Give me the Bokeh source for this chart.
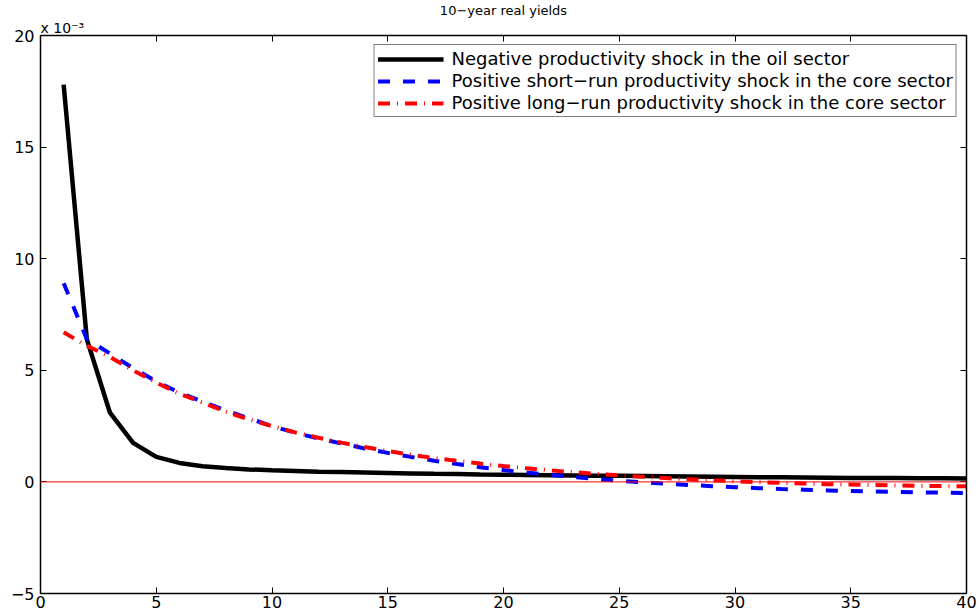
from bokeh.plotting import figure
from bokeh.models import LinearAxis, Range1d, Span, Title, Legend, LegendItem, FixedTicker
from bokeh.embed import file_html
from bokeh.resources import INLINE

periods = list(range(1, 41))
oil_neg = [17.8, 6.4, 3.1, 1.75, 1.12, 0.85, 0.70, 0.62, 0.56, 0.52,
           0.49, 0.46, 0.44, 0.42, 0.40, 0.38, 0.36, 0.35, 0.33, 0.32,
           0.31, 0.30, 0.29, 0.28, 0.27, 0.26, 0.25, 0.24, 0.23, 0.22,
           0.21, 0.21, 0.20, 0.19, 0.18, 0.18, 0.17, 0.16, 0.16, 0.15]
core_short = [8.9, 6.4, 5.75, 5.1, 4.5, 4.0, 3.6, 3.2, 2.85, 2.5,
              2.2, 1.95, 1.72, 1.5, 1.3, 1.12, 0.95, 0.8, 0.66, 0.53,
              0.42, 0.32, 0.22, 0.13, 0.05, -0.02, -0.08, -0.14, -0.19, -0.24,
              -0.28, -0.32, -0.35, -0.38, -0.41, -0.43, -0.45, -0.47, -0.48, -0.5]
core_long = [6.7, 6.1, 5.6, 5.0, 4.45, 3.95, 3.55, 3.15, 2.8, 2.5,
             2.22, 1.98, 1.76, 1.56, 1.38, 1.22, 1.07, 0.94, 0.82, 0.71,
             0.61, 0.52, 0.44, 0.36, 0.29, 0.23, 0.17, 0.12, 0.07, 0.03,
             -0.01, -0.04, -0.07, -0.1, -0.12, -0.14, -0.16, -0.18, -0.19, -0.2]
x_ticks = [0, 5, 10, 15, 20, 25, 30, 35, 40]
y_ticks = [-5, 0, 5, 10, 15, 20]
y_tick_labels = {-5: "\u22125", 0: "0", 5: "5", 10: "10", 15: "15", 20: "20"}
labels = ["Negative productivity shock in the oil sector",
          "Positive short\u2212run productivity shock in the core sector",
          "Positive long\u2212run productivity shock in the core sector"]
title_text = "10\u2212year real yields"
multiplier_text = "x 10\u207b\u00b3"

FONT = "DejaVu Sans"
W, H = 977, 615
BL, BR, BT, BB = 40, 11, 35, 22   # borders around the plotting frame

p = figure(width=W, height=H, output_backend="svg", toolbar_location=None,
           x_range=Range1d(0, 40), y_range=Range1d(-5, 20),
           x_axis_location=None, y_axis_location=None,
           min_border_left=BL, min_border_right=BR, min_border_top=BT, min_border_bottom=BB)
p.grid.visible = False
p.outline_line_color = "black"
p.outline_line_width = 1
p.background_fill_color = "white"
p.border_fill_color = "white"

def mk_axis(ticks, show_labels):
    ax = LinearAxis(ticker=FixedTicker(ticks=ticks))
    ax.major_tick_in = 6
    ax.major_tick_out = 0
    ax.minor_tick_in = 0
    ax.minor_tick_out = 0
    ax.axis_line_color = "black"
    ax.axis_line_width = 1.5
    ax.major_tick_line_color = "black"
    ax.major_label_text_font = FONT
    ax.major_label_text_color = "black"
    ax.major_label_text_font_size = "16px"
    if not show_labels:
        ax.major_label_overrides = {t: "" for t in ticks}
        ax.major_label_standoff = 0
        ax.major_label_text_font_size = "1px"
    return ax

xb = mk_axis(x_ticks, True); xb.major_label_standoff = 2
xt = mk_axis(x_ticks, False)
yl = mk_axis(y_ticks, True); yl.major_label_standoff = 6
yl.major_label_overrides = y_tick_labels
yr = mk_axis(y_ticks, False)
p.add_layout(xb, "below")
p.add_layout(xt, "above")
p.add_layout(yl, "left")
p.add_layout(yr, "right")

p.add_layout(Title(text=multiplier_text, align="left", text_font=FONT, text_font_size="14px",
                   text_font_style="normal", text_color="black", standoff=0), "above")
p.add_layout(Title(text=title_text, align="center", text_font=FONT, text_font_size="13px",
                   text_font_style="normal", text_color="black", standoff=0), "above")

p.add_layout(Span(location=0, dimension="width", line_color="red", line_width=1))

r1 = p.line(periods, oil_neg, line_color="black", line_width=4.5)
r2 = p.line(periods, core_short, line_color="blue", line_width=4, line_dash="12 13")
r3 = p.line(periods, core_long, line_color="red", line_width=4, line_dash="12 7 1 7")

legend = Legend(items=[LegendItem(label=labels[0], renderers=[r1]),
                       LegendItem(label=labels[1], renderers=[r2]),
                       LegendItem(label=labels[2], renderers=[r3])],
                location="top_right", margin=9, padding=3, spacing=1,
                glyph_width=66, glyph_height=20, label_height=20, label_standoff=8,
                label_text_font=FONT, label_text_font_size="18px", label_text_color="black",
                border_line_color="black", border_line_width=1,
                background_fill_alpha=1)
p.add_layout(legend)

open("out.html", "w").write(file_html(p, INLINE))
